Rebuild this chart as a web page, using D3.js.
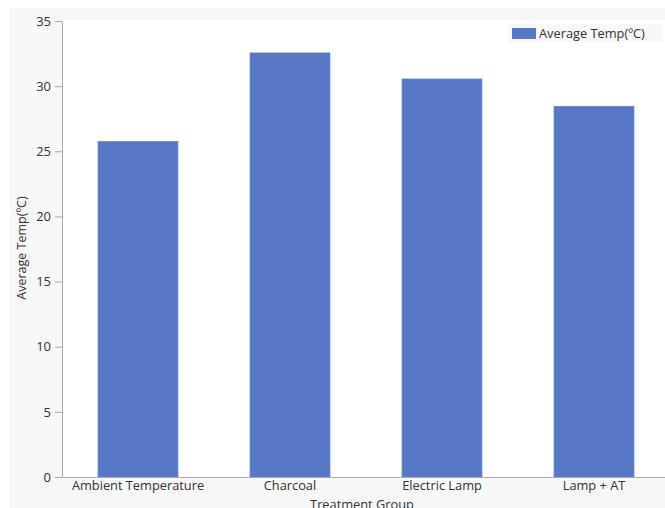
<!DOCTYPE html>
<html>
<head>
<meta charset="utf-8">
<script src="https://cdn.jsdelivr.net/npm/d3@7"></script>
<style>
  body { margin: 0; background: #fff; }
  text { font-family: "Open Sans", "Noto Sans", sans-serif; fill: #333; }
</style>
</head>
<body>
<div id="viz"></div>
<script>
// chart data
const groups = ["Ambient Temperature", "Charcoal", "Electric Lamp", "Lamp + AT"];
const avgTemp = [25.75, 32.55, 30.55, 28.45];
const yTicks = [0, 5, 10, 15, 20, 25, 30, 35];

const width = 665, height = 508;
const plotLeft = 62, plotTop = 21, plotBottom = 477, plotRight = 670;

const svg = d3.select("#viz").append("svg")
  .attr("width", width)
  .attr("height", height);

// outer grey panel, white plot area
svg.append("rect").attr("x", 10).attr("y", 8).attr("width", width - 10).attr("height", height - 8).attr("fill", "#f7f7f7");
svg.append("rect").attr("x", plotLeft).attr("y", plotTop - 1).attr("width", plotRight - plotLeft).attr("height", plotBottom - plotTop + 1).attr("fill", "#fff");

const x = d3.scaleBand().domain(groups).range([plotLeft, plotRight]).paddingInner(0.474).paddingOuter(0.237);
const y = d3.scaleLinear().domain([0, 35]).range([plotBottom, plotTop]);

svg.append("g")
  .selectAll("rect")
  .data(groups)
  .enter().append("rect")
  .attr("x", d => x(d))
  .attr("y", (d, i) => y(avgTemp[i]))
  .attr("width", x.bandwidth())
  .attr("height", (d, i) => plotBottom - y(avgTemp[i]))
  .attr("fill", "#5677c4")
  .attr("stroke", "#6a89d0")
  .attr("stroke-width", 0.8);

const yAxis = svg.append("g")
  .attr("transform", `translate(${plotLeft},0)`)
  .call(d3.axisLeft(y).tickValues(yTicks).tickSize(7).tickPadding(4).tickSizeOuter(0));
yAxis.selectAll("text").style("font-size", "13px");

const xAxis = svg.append("g")
  .attr("transform", `translate(0,${plotBottom})`)
  .call(d3.axisBottom(x).tickSize(0).tickPadding(4).tickSizeOuter(0));
xAxis.selectAll("text").style("font-size", "12.8px");

svg.selectAll(".domain, .tick line").attr("stroke", "#aaa");

svg.append("text")
  .attr("transform", "translate(26,248) rotate(-90)")
  .attr("text-anchor", "middle")
  .style("font-size", "12.5px")
  .text("Average Temp(ºC)");

svg.append("text")
  .attr("x", 362).attr("y", 509)
  .attr("text-anchor", "middle")
  .style("font-size", "12.8px")
  .text("Treatment Group");

// legend
const legend = svg.append("g");
legend.append("rect").attr("x", 508).attr("y", 24).attr("width", 155).attr("height", 18).attr("fill", "#f8f8f8");
legend.append("rect").attr("x", 512).attr("y", 28).attr("width", 24).attr("height", 11).attr("fill", "#5677c4");
legend.append("text").attr("x", 539).attr("y", 38).style("font-size", "12.8px").text("Average Temp(ºC)");
</script>
</body>
</html>
